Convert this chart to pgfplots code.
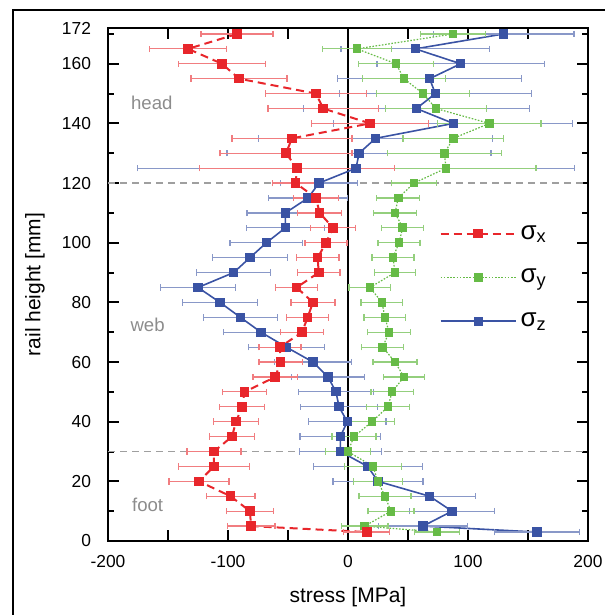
\documentclass[border=0pt]{standalone}
\usepackage{fontspec}
\setmainfont{Liberation Sans}
\usepackage{pgfplots}
\usepackage{pgfplotstable}
\pgfplotsset{compat=1.18}

\definecolor{sxred}{HTML}{E8262B}
\definecolor{sygreen}{HTML}{66BB46}
\definecolor{szblue}{HTML}{3A53A4}

% height [mm], stress [MPa], error
\pgfplotstableread{
h s e
170 -92.5 30
165 -133.3 32
160 -105 36
155 -90.8 40
150 -26.7 42
145 -20.6 46
140 18.3 49
135 -46.7 50
130 -51.7 55
125 -42.5 81
120 -43.6 19
115 -26.7 18.7
110 -23.6 18.3
105 -12.5 18.6
100 -18.3 17.5
95 -25.3 17.8
90 -24.4 17.8
85 -42.8 17.6
80 -29.2 18.3
75 -33.6 17.4
70 -38.3 18
65 -56.7 17.5
60 -56.1 18
55 -60.6 18.6
50 -86.1 18.3
45 -88.3 18.6
40 -93.3 19
35 -96.7 19
30 -111.7 22.5
25 -111.7 29.7
20 -124.2 25
15 -97.8 20.3
10 -81.7 19.7
5 -80.8 19.9
3 15.6 19.3
}\sigx

\pgfplotstableread{
h s e
170 87.5 27
165 7.5 28.5
160 40 31.5
155 46.7 34.7
150 62.5 38.8
145 73.3 42
140 117.8 43
135 87.8 42
130 80.3 47.5
125 81.7 75
120 55 18.5
115 41.9 18
110 39.2 18
105 45.6 17.5
100 42.5 17.5
95 37.5 17.5
90 39.2 17
85 18.3 17.4
80 28.3 17.4
75 30.8 17.4
70 34.2 17.8
65 28.9 17.4
60 39.2 18.3
55 46.7 17.2
50 36.7 17.6
45 33.3 17.8
40 20 18.5
35 5 18.3
30 0 19
25 20.8 23.6
20 25 20.3
15 30.8 21.7
10 35.8 19.2
5 13.9 19.4
3 74.2 18.8
}\sigy

\pgfplotstableread{
h s e
170 129.7 58.6
165 56.1 62
160 93.9 69.7
155 68 76.7
150 72.8 80
145 57 94
140 87.8 99.6
135 23 97.6
130 9.2 110
125 6.7 182
120 -24.2 32
115 -33.3 32.8
110 -52.2 32
105 -52.2 32.4
100 -68 30.4
95 -81.7 31.3
90 -95.3 31
85 -125 31
80 -106.7 31
75 -89.7 31
70 -72.5 31
65 -51.4 31.8
60 -29.2 32
55 -16.7 30.7
50 -10 31.3
45 -7.5 32
40 -0.6 32.2
35 -6.4 33.6
30 -6.4 34.3
25 16.4 45.4
20 25 37.5
15 68 38
10 86.7 35.5
5 62.5 37
3 157.5 35.4
}\sigz

\begin{document}
\begin{tikzpicture}
\path[use as bounding box] (-54pt,-37pt) rectangle (248.5pt,270.5pt);
\draw[line width=1.1pt] (-47.5pt,-37pt) -- (-47.5pt,265.5pt) -- (248.5pt,265.5pt);
\begin{axis}[
  at={(0pt,0pt)}, anchor=south west,
  scale only axis, width=240pt, height=256.5pt,
  xmin=-200, xmax=200, ymin=0, ymax=172,
  xtick={-200,-150,...,200},
  xticklabels={-200,,-100,,0,,100,,200},
  ytick={0,20,...,160,172},
  minor ytick={10,30,...,170},
  tick align=inside,
  major tick length=5.5pt, minor tick length=3pt,
  tick style={black, line width=1pt},
  axis line style={line width=1.1pt},
  font=\fontsize{8.7}{10}\selectfont,
  /pgf/number format/assume math mode=true,
  yticklabel style={xshift=-5pt},
  xticklabel style={yshift=-3.5pt},
  xlabel={stress [MPa]}, ylabel={rail height [mm]},
  label style={font=\fontsize{10.5}{12}\selectfont},
  xlabel style={at={(axis description cs:0.5,-0.109)}, anchor=center},
  ylabel style={at={(axis description cs:-0.152,0.5)}, anchor=center},
  extra x ticks={0}, extra x tick labels={},
  extra x tick style={grid=major, major grid style={black, line width=1.2pt}, major tick length=0pt},
  extra y ticks={30,120}, extra y tick labels={},
  extra y tick style={grid=major, major grid style={gray!75, line width=0.7pt, dash pattern=on 3.5pt off 2.5pt}, major tick length=0pt},
  reverse legend,
  legend image code/.code={\draw[mark repeat=2,mark phase=2,#1] plot coordinates {(0pt,0pt)(18.75pt,0pt)(37.5pt,0pt)};},
  legend style={draw=none, fill=none, at={(rel axis cs:0.690,0.624)}, anchor=north west,
    font=\fontsize{13}{13}\selectfont, row sep=9.5pt, inner sep=0pt},
]
\addplot[color=szblue, line width=0.8pt, mark=square*, mark size=1.9pt, mark options={solid},
  error bars/.cd, x dir=both, x explicit,
  error bar style={szblue!60, line width=0.6pt, solid},
  error mark options={szblue!60, mark size=1.6pt, line width=0.6pt, rotate=90}]
  table[x=s, y=h, x error=e] {\sigz};
\addlegendentry{σ\textsubscript{z}}
\addplot[color=sygreen, line width=0.6pt, dash pattern=on 0.8pt off 0.8pt, mark=square*, mark size=1.9pt, mark options={solid},
  error bars/.cd, x dir=both, x explicit,
  error bar style={sygreen!70, line width=0.6pt, solid},
  error mark options={sygreen!70, mark size=1.6pt, line width=0.6pt, rotate=90}]
  table[x=s, y=h, x error=e] {\sigy};
\addlegendentry{σ\textsubscript{y}}
\addplot[color=sxred, line width=1pt, dash pattern=on 4pt off 2.5pt, mark=square*, mark size=1.9pt, mark options={solid},
  error bars/.cd, x dir=both, x explicit,
  error bar style={sxred!60, line width=0.6pt, solid},
  error mark options={sxred!60, mark size=1.6pt, line width=0.6pt, rotate=90}]
  table[x=s, y=h, x error=e] {\sigx};
\addlegendentry{σ\textsubscript{x}}
\node[text=gray!90, font=\fontsize{9.3}{10}\selectfont] at (axis cs:-163.5,147) {head};
\node[text=gray!90, font=\fontsize{9.3}{10}\selectfont] at (axis cs:-167,72.5) {web};
\node[text=gray!90, font=\fontsize{9.3}{10}\selectfont] at (axis cs:-167,12) {foot};
\end{axis}
\end{tikzpicture}
\end{document}
